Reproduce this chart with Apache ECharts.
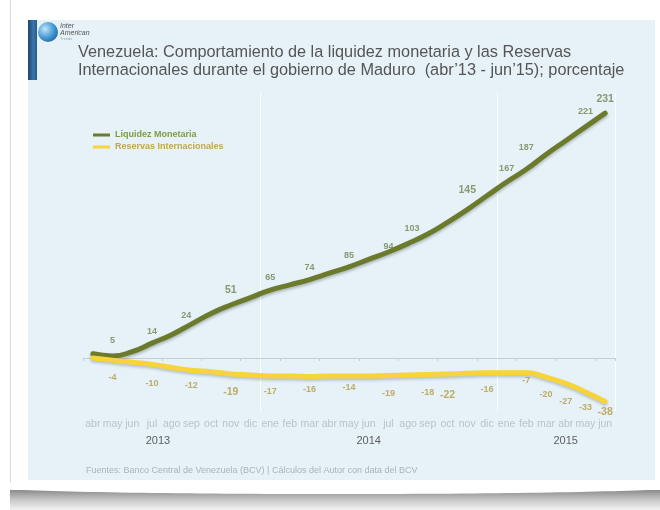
<!DOCTYPE html>
<html>
<head>
<meta charset="utf-8">
<script src="https://cdn.jsdelivr.net/npm/echarts@6/dist/echarts.min.js"></script>
<style>
html,body{margin:0;padding:0;background:#fff;}
#chart{width:660px;height:510px;}
</style>
</head>
<body>
<div id="chart"></div>
<script>
// ---- data ----
const months = ['abr','may','jun','jul','ago','sep','oct','nov','dic','ene','feb','mar','abr','may','jun','jul','ago','sep','oct','nov','dic','ene','feb','mar','abr','may','jun'];
const yearLabels = ['','','','2013','','','','','','','','','','','2014','','','','','','','','','','2015','',''];
// smoothed trend lines as drawn
const liquidezLine = [4, 2, 6, 14, 22, 32, 42, 50, 57, 64, 69, 74, 80, 86, 93, 100, 108, 117, 128, 140, 153, 166, 178, 192, 205, 218, 231];
const reservasLine = [0, -2, -4, -6, -9, -11.5, -13, -15, -16, -17, -17, -17.5, -17, -17, -17, -16.5, -16, -15.5, -15, -14.5, -14, -14, -14, -18, -24, -32, -41];
// printed value labels (null = no label)
const liquidezLabels = [null, 5, null, 14, null, 24, null, 51, null, 65, null, 74, null, 85, null, 94, 103, null, null, 145, null, 167, 187, null, null, 221, 231];
const reservasLabels = [null, -4, null, -10, null, -12, null, -19, null, -17, null, -16, null, -14, null, -19, null, -18, -22, null, -16, null, -7, -20, -27, -33, -38];
const seriesNames = ['Liquidez Monetaria', 'Reservas Internacionales'];
const titleLines = ['Venezuela: Comportamiento de la liquidez monetaria y las Reservas', 'Internacionales durante el gobierno de Maduro  (abr\u201913 - jun\u201915); porcentaje'];
const sourceText = 'Fuentes: Banco Central de Venezuela (BCV) | C\u00e1lculos del Autor con data del BCV';

// ---- styling ----
const FONT = '"Liberation Sans", Arial, Helvetica, sans-serif';
const GREEN = '#6b7b2b', YELLOW = '#f8d43a';
const GREEN_TXT = '#6f8350', YELLOW_TXT = '#b49a42';
const greenBig = [7, 19, 26], yellowBig = [7, 18, 26];
// label placement tweaks (style only): index -> {distance, offset}
const greenLabelTweak = { 5: { distance: 12, offset: [-5, 0] }, 16: { distance: 15, offset: [4, 0] } };

function labelData(arr, big, size, tweak) {
  return arr.map((v, i) => {
    if (v === null) return '-';
    const item = { value: v };
    const lbl = {};
    if (big.indexOf(i) >= 0) { lbl.fontSize = size; lbl.distance = 8; }
    if (tweak && tweak[i]) Object.assign(lbl, tweak[i]);
    if (Object.keys(lbl).length) item.label = lbl;
    return item;
  });
}

const chart = echarts.init(document.getElementById('chart'), null, { renderer: 'canvas' });
const option = {
  animation: false,
  backgroundColor: '#ffffff',
  textStyle: { fontFamily: FONT },
  title: {
    text: titleLines.join('\n'),
    left: 73, top: 39,
    textStyle: { fontFamily: FONT, fontSize: 16.3, fontWeight: 'normal', color: '#555555', lineHeight: 17.8 }
  },
  legend: {
    data: [
      { name: seriesNames[0], textStyle: { color: '#7f9b45' } },
      { name: seriesNames[1], textStyle: { color: '#c4a64c' } }
    ],
    orient: 'vertical',
    left: 88, top: 125,
    icon: 'rect', itemWidth: 17, itemHeight: 3, itemGap: 2,
    textStyle: { fontFamily: FONT, fontSize: 9, fontWeight: 'bold', lineHeight: 10 },
    selectedMode: false
  },
  grid: { left: 83, right: 45, top: 93, bottom: 99 },
  xAxis: [
    {
      type: 'category', data: months, position: 'bottom',
      axisLine: { show: false, onZero: false }, axisTick: { show: false },
      axisLabel: { interval: 0, color: '#b9c3c8', fontSize: 10.5, margin: 8, fontFamily: FONT },
      splitLine: { show: true, interval: (i) => i === 9 || i === 21, lineStyle: { color: 'rgba(255,255,255,0.95)', width: 1 } }
    },
    {
      type: 'category', data: months, position: 'bottom',
      axisLine: { show: true, onZero: true, lineStyle: { color: '#c6ced2', width: 1 } },
      axisTick: { show: true, length: 3, lineStyle: { color: '#c6ced2' } },
      axisLabel: { show: false }, splitLine: { show: false }
    },
    {
      type: 'category', data: yearLabels.map((y, i) => i), position: 'bottom',
      axisLine: { show: false, onZero: false }, axisTick: { show: false },
      axisLabel: {
        interval: 0, margin: 24, color: '#5e5e5e', fontSize: 11, fontFamily: FONT,
        formatter: (v, i) => yearLabels[i] ? (i === 3 ? '{s|' + yearLabels[i] + '}' : yearLabels[i]) : '',
        rich: { s: { padding: [0, 0, 0, 12], color: '#5e5e5e', fontSize: 11, fontFamily: FONT } }
      },
      splitLine: { show: false }
    }
  ],
  yAxis: { type: 'value', min: -50, max: 250, show: false, splitLine: { show: false } },
  series: [
    {
      name: seriesNames[0], type: 'line', data: liquidezLine, smooth: true, showSymbol: false,
      color: GREEN, xAxisIndex: 0,
      lineStyle: { width: 5, color: GREEN, cap: 'round', shadowColor: 'rgba(0,0,0,0.25)', shadowBlur: 3, shadowOffsetY: 2 },
      z: 3
    },
    {
      name: seriesNames[1], type: 'line', data: reservasLine, smooth: true, showSymbol: false,
      color: YELLOW, xAxisIndex: 0,
      lineStyle: { width: 5, color: YELLOW, cap: 'round', shadowColor: 'rgba(0,0,0,0.2)', shadowBlur: 3, shadowOffsetY: 2 },
      z: 4
    },
    {
      name: 'lblLiquidez', type: 'scatter', data: labelData(liquidezLabels, greenBig, 10.5, greenLabelTweak), xAxisIndex: 0,
      symbolSize: 1, itemStyle: { color: 'rgba(0,0,0,0)' }, silent: true, z: 6,
      label: { show: true, position: 'top', distance: 7, color: GREEN_TXT, fontSize: 9, fontWeight: 'bold', fontFamily: FONT, formatter: (p) => p.value }
    },
    {
      name: 'lblReservas', type: 'scatter', data: labelData(reservasLabels, yellowBig, 10.5), xAxisIndex: 0,
      symbolSize: 1, itemStyle: { color: 'rgba(0,0,0,0)' }, silent: true, z: 6,
      label: { show: true, position: 'bottom', distance: 10, color: YELLOW_TXT, fontSize: 9, fontWeight: 'bold', fontFamily: FONT, formatter: (p) => p.value }
    }
  ],
  graphic: [
    { type: 'rect', z: -10, silent: true, shape: { x: 10, y: 0, width: 1, height: 490 }, style: { fill: '#d8d8d8' } },
    { type: 'rect', z: -10, silent: true, shape: { x: 10, y: 490, width: 650, height: 20 },
      style: { fill: new echarts.graphic.LinearGradient(0, 0, 0, 1, [{ offset: 0, color: '#8a8a8a' }, { offset: 0.5, color: '#c9c9c9' }, { offset: 1, color: '#f2f2f2' }]) } },
    { type: 'ellipse', z: -9, silent: true, shape: { cx: 335, cy: 486, rx: 360, ry: 8 }, style: { fill: '#ffffff' } },
    { type: 'rect', z: -8, silent: true, shape: { x: 28, y: 20, width: 627, height: 460 }, style: { fill: '#e6f2f7' } },
    { type: 'rect', z: -7, silent: true, shape: { x: 28, y: 20, width: 9, height: 60 },
      style: { fill: new echarts.graphic.LinearGradient(0, 0, 1, 0, [{ offset: 0, color: '#1b4670' }, { offset: 0.6, color: '#3b76aa' }, { offset: 1, color: '#2a5b88' }]) } },
    { type: 'circle', z: -7, silent: true, shape: { cx: 48, cy: 32, r: 10 },
      style: { fill: new echarts.graphic.RadialGradient(0.35, 0.35, 0.8, [{ offset: 0, color: '#bfe6fa' }, { offset: 0.6, color: '#3d93d0' }, { offset: 1, color: '#1b5e98' }]) } },
    { type: 'text', z: -6, silent: true, style: { x: 60, y: 26, text: 'Inter', fill: '#555', font: 'italic 7px ' + FONT, textVerticalAlign: 'middle' } },
    { type: 'text', z: -6, silent: true, style: { x: 60, y: 33, text: 'American', fill: '#555', font: 'italic 7px ' + FONT, textVerticalAlign: 'middle' } },
    { type: 'text', z: -6, silent: true, style: { x: 60, y: 39, text: 'Trends', fill: '#9aa', font: '4px ' + FONT, textVerticalAlign: 'middle' } },
    { type: 'text', z: -6, silent: true, style: { x: 86, y: 471, text: sourceText, fill: '#a9b4b9', font: '9px ' + FONT, textVerticalAlign: 'middle' } }
  ]
};
chart.setOption(option);
</script>
</body>
</html>
